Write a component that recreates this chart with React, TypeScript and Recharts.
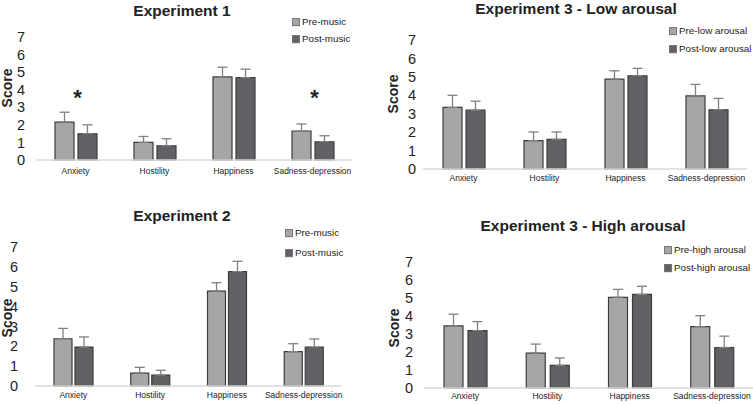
import React from "react";
import { BarChart, Bar, XAxis, YAxis, ErrorBar, ReferenceDot } from "recharts";

const CATEGORIES = ["Anxiety", "Hostility", "Happiness", "Sadness-depression"];
const Y_TICKS = [0, 1, 2, 3, 4, 5, 6, 7];

// Experiment 1
const EXP1_PRE = [2.16, 1.0, 4.73, 1.65];
const EXP1_PRE_SE = [0.56, 0.34, 0.55, 0.4];
const EXP1_POST = [1.49, 0.81, 4.69, 1.04];
const EXP1_POST_SE = [0.51, 0.4, 0.48, 0.34];
const EXP1_SIG = ["Anxiety", "Sadness-depression"];

// Experiment 2
const EXP2_PRE = [2.38, 0.65, 4.78, 1.73];
const EXP2_PRE_SE = [0.52, 0.29, 0.42, 0.4];
const EXP2_POST = [1.96, 0.55, 5.76, 1.96];
const EXP2_POST_SE = [0.51, 0.24, 0.52, 0.41];

// Experiment 3 - low arousal
const LOW_PRE = [3.34, 1.54, 4.88, 3.97];
const LOW_PRE_SE = [0.66, 0.47, 0.45, 0.62];
const LOW_POST = [3.19, 1.61, 5.06, 3.21];
const LOW_POST_SE = [0.49, 0.4, 0.4, 0.62];

// Experiment 3 - high arousal
const HIGH_PRE = [3.45, 1.94, 5.04, 3.41];
const HIGH_PRE_SE = [0.65, 0.5, 0.44, 0.61];
const HIGH_POST = [3.19, 1.26, 5.2, 2.25];
const HIGH_POST_SE = [0.5, 0.41, 0.45, 0.63];

const FONT = "'Liberation Sans', Arial, sans-serif";
const PRE_COLOR = "#a6a6a8";
const POST_COLOR = "#616165";
const EDGE = "#3c3c3c";
const ERR_COLOR = "#808080";

function rows(pre: number[], preSe: number[], post: number[], postSe: number[]) {
  return CATEGORIES.map((cat, i) => ({
    cat,
    pre: pre[i],
    post: post[i],
    preErr: [0, preSe[i]],
    postErr: [0, postSe[i]],
  }));
}

type PanelProps = {
  left: number;
  top: number;
  width: number;
  height: number;
  margin: { top: number; right: number; bottom: number; left: number };
  yTickMargin: number;
  xTickMargin: number;
  xAxisHeight: number;
  barSize: number;
  barGap: number;
  title: string;
  titleX: number;
  titleY: number;
  scoreX: number;
  scoreY: number;
  legendX: number;
  legendY: [number, number];
  names: [string, string];
  data: ReturnType<typeof rows>;
  sig?: string[];
};

function Panel(p: PanelProps) {
  const text: React.CSSProperties = {
    position: "absolute",
    fontFamily: FONT,
    color: "#222",
    whiteSpace: "nowrap",
    lineHeight: 1,
  };
  return (
    <>
      <div style={{ position: "absolute", left: p.left, top: p.top }}>
        <BarChart
          width={p.width}
          height={p.height}
          data={p.data}
          margin={p.margin}
          barSize={p.barSize}
          barGap={p.barGap}
        >
          <XAxis
            dataKey="cat"
            interval={0}
            height={p.xAxisHeight}
            axisLine={{ stroke: "#d9d9d9", strokeWidth: 1.5 }}
            tickLine={false}
            tickSize={0}
            tickMargin={p.xTickMargin}
            tick={{ fontSize: 8.5, fill: "#222", fontFamily: FONT }}
          />
          <YAxis
            domain={[0, 7]}
            ticks={Y_TICKS}
            interval={0}
            width={30}
            axisLine={false}
            tickLine={false}
            tickSize={0}
            tickMargin={p.yTickMargin}
            tick={{ fontSize: 14.5, fill: "#222", fontFamily: FONT }}
          />
          <Bar dataKey="pre" fill={PRE_COLOR} stroke={EDGE} strokeWidth={1.2} isAnimationActive={false}>
            <ErrorBar dataKey="preErr" direction="y" width={5} stroke={ERR_COLOR} strokeWidth={1.3} isAnimationActive={false} />
          </Bar>
          <Bar dataKey="post" fill={POST_COLOR} stroke={EDGE} strokeWidth={1.2} isAnimationActive={false}>
            <ErrorBar dataKey="postErr" direction="y" width={5} stroke={ERR_COLOR} strokeWidth={1.3} isAnimationActive={false} />
          </Bar>
          {(p.sig ?? []).map((c) => (
            <ReferenceDot
              key={c}
              x={c}
              y={3.55}
              r={0}
              label={{ value: "*", fontSize: 22, fontWeight: "bold", fill: "#222", fontFamily: FONT, dx: 2 }}
            />
          ))}
        </BarChart>
      </div>
      <div
        style={{
          ...text,
          left: p.titleX,
          top: p.titleY,
          transform: "translate(-50%, -50%)",
          fontSize: 15.5,
          fontWeight: "bold",
        }}
      >
        {p.title}
      </div>
      <div
        style={{
          ...text,
          left: p.scoreX,
          top: p.scoreY,
          transform: "translate(-50%, -50%) rotate(-90deg)",
          fontSize: 14,
          fontWeight: "bold",
        }}
      >
        Score
      </div>
      {p.names.map((n, i) => (
        <div
          key={n}
          style={{
            ...text,
            left: p.legendX,
            top: p.legendY[i],
            transform: "translateY(-50%)",
            fontSize: 9.8,
            display: "flex",
            alignItems: "center",
          }}
        >
          <span
            style={{
              display: "inline-block",
              width: 6,
              height: 6,
              marginRight: 2,
              background: i === 0 ? PRE_COLOR : POST_COLOR,
              border: "1px solid #777",
            }}
          />
          {n}
        </div>
      ))}
    </>
  );
}

export default function App() {
  return (
    <div
      style={{
        position: "absolute",
        left: 0,
        top: 0,
        width: 753,
        height: 404,
        background: "#fff",
        overflow: "hidden",
      }}
    >
      <Panel
        left={0}
        top={0}
        width={376}
        height={190}
        margin={{ top: 37, right: 24, bottom: 10, left: 6 }}
        yTickMargin={11}
        xTickMargin={8}
        xAxisHeight={20}
        barSize={19}
        barGap={4}
        title="Experiment 1"
        titleX={182}
        titleY={11}
        scoreX={7}
        scoreY={88}
        legendX={292}
        legendY={[22, 39]}
        names={["Pre-music", "Post-music"]}
        data={rows(EXP1_PRE, EXP1_PRE_SE, EXP1_POST, EXP1_POST_SE)}
        sig={EXP1_SIG}
      />
      <Panel
        left={376}
        top={0}
        width={377}
        height={190}
        margin={{ top: 40, right: 6, bottom: 1, left: 17 }}
        yTickMargin={7}
        xTickMargin={6}
        xAxisHeight={20}
        barSize={19}
        barGap={4}
        title="Experiment 3 - Low arousal"
        titleX={576}
        titleY={9}
        scoreX={393}
        scoreY={94}
        legendX={669}
        legendY={[31, 49]}
        names={["Pre-low arousal", "Post-low arousal"]}
        data={rows(LOW_PRE, LOW_PRE_SE, LOW_POST, LOW_POST_SE)}
      />
      <Panel
        left={0}
        top={200}
        width={376}
        height={204}
        margin={{ top: 47, right: 34, bottom: 1, left: 5 }}
        yTickMargin={17}
        xTickMargin={6}
        xAxisHeight={17}
        barSize={18}
        barGap={3}
        title="Experiment 2"
        titleX={182}
        titleY={216}
        scoreX={7}
        scoreY={318}
        legendX={285}
        legendY={[233, 253]}
        names={["Pre-music", "Post-music"]}
        data={rows(EXP2_PRE, EXP2_PRE_SE, EXP2_POST, EXP2_POST_SE)}
      />
      <Panel
        left={376}
        top={200}
        width={377}
        height={204}
        margin={{ top: 62, right: 0, bottom: 1, left: 18 }}
        yTickMargin={11}
        xTickMargin={5}
        xAxisHeight={15}
        barSize={19}
        barGap={5}
        title="Experiment 3 - High arousal"
        titleX={583}
        titleY={226}
        scoreX={394}
        scoreY={328}
        legendX={664}
        legendY={[250, 268]}
        names={["Pre-high arousal", "Post-high arousal"]}
        data={rows(HIGH_PRE, HIGH_PRE_SE, HIGH_POST, HIGH_POST_SE)}
      />
    </div>
  );
}
